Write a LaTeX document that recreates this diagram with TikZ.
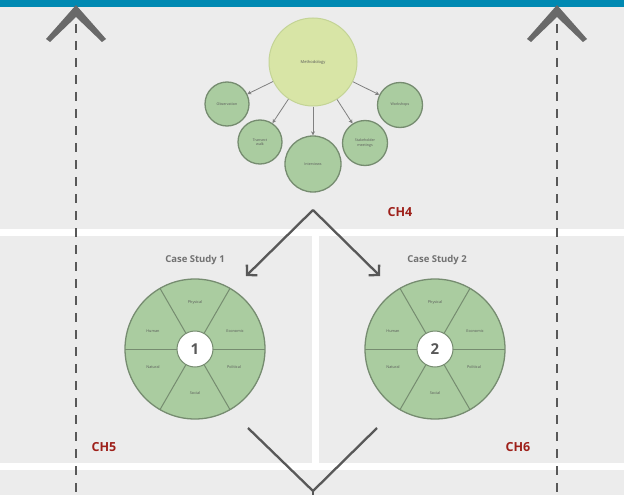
\documentclass[tikz,border=0pt]{standalone}
\usepackage{fontspec}
\setmainfont{Open Sans}
\usetikzlibrary{arrows.meta}
\definecolor{bggray}{RGB}{236,236,236}
\definecolor{topblue}{RGB}{0,137,178}
\definecolor{methfill}{RGB}{216,229,166}
\definecolor{methline}{RGB}{196,212,150}
\definecolor{subfill}{RGB}{170,204,160}
\definecolor{subline}{RGB}{118,140,112}
\definecolor{chred}{RGB}{158,32,26}
\definecolor{darkline}{RGB}{88,88,88}
\tikzset{
  subcircle/.style={circle, draw=subline, fill=subfill, line width=1.3pt, inner sep=0pt,
    align=center, text=darkline, font=\fontsize{3.6}{4.2}\selectfont},
  chapter/.style={text=chred, font=\bfseries\fontsize{12.5}{14}\selectfont},
  casetitle/.style={text=darkline!85, font=\bfseries\fontsize{9.5}{11}\selectfont},
  seglabel/.style={text=darkline, font=\fontsize{3.8}{4.5}\selectfont},
  bigarrow/.style={draw=darkline, line width=2.3pt},
  smallarrow/.style={draw=gray, line width=0.8pt, -{Stealth[length=4pt,width=4pt]}},
  chapline/.style={draw=darkline, line width=1.8pt, dash pattern=on 9pt off 8pt},
}
\begin{document}
\begin{tikzpicture}[x=1pt,y=-1pt]
\useasboundingbox (0,0) rectangle (624,495);
\fill[bggray] (0,0) rectangle (624,495);
\fill[white] (0,229) rectangle (624,236);
\fill[white] (0,463) rectangle (624,470);
\fill[white] (312,236) rectangle (319,463);
\fill[topblue] (0,0) rectangle (624,7);

% chapter lines going up
\draw[chapline] (76,24) -- (76,495);
\draw[chapline] (557,24) -- (557,495);
\fill[darkline!90] (76,5) -- (106,39) -- (102,42) -- (76,17) -- (50,42) -- (46,39) -- cycle;
\fill[darkline!90] (557,5) -- (587,39) -- (583,42) -- (557,17) -- (531,42) -- (527,39) -- cycle;

% methodology
\node[circle, draw=methline, fill=methfill, line width=1pt, minimum size=88pt, inner sep=0pt,
  text=darkline, font=\fontsize{4}{5}\selectfont](meth) at (313, 62){Methodology};
\node[subcircle, minimum size=44pt](m1) at (227, 104){Observation};
\node[subcircle, minimum size=44pt](m2) at (260, 142){Transect\\walk};
\node[subcircle, minimum size=56pt](m3) at (313, 164){Interviews};
\node[subcircle, minimum size=45pt](m4) at (365, 143){Stakeholder\\meetings};
\node[subcircle, minimum size=45pt](m5) at (400, 105){Workshops};
\draw[smallarrow] (meth) -- (m1);
\draw[smallarrow] (meth) -- (m2);
\draw[smallarrow] (meth) -- (m3);
\draw[smallarrow] (meth) -- (m4);
\draw[smallarrow] (meth) -- (m5);

\node[chapter](C4) at (400, 212){CH4};
\node[chapter](C5) at (104, 447){CH5};
\node[chapter](C6) at (518, 447){CH6};

% split into the two cases
\coordinate(top) at (313, 210);
\coordinate(tip1) at (246, 276);
\coordinate(tip2) at (380, 276);
\draw[bigarrow, -{Straight Barb[length=7pt,width=15pt,line width=2.3pt]}] (top) -- (tip1);
\draw[bigarrow, -{Straight Barb[length=7pt,width=15pt,line width=2.3pt]}] (top) -- (tip2);

\node[casetitle](T1) at (195, 260){Case Study 1};
\node[casetitle](T2) at (437, 260){Case Study 2};

% case study 1
\fill[subfill] (195, 349) circle (70);
\foreach \a in {0,60,...,300}
  \draw[subline, line width=1pt] (195, 349) ++(\a:18) -- ++(\a:52);
\draw[subline, line width=1.3pt] (195, 349) circle (70);
\node[circle, fill=white, draw=subline, line width=1pt, minimum size=36pt, inner sep=0pt,
  text=darkline, font=\bfseries\fontsize{15}{15}\selectfont](W1) at (195, 349){1};
\node[seglabel] at (195, 303){Physical};
\node[seglabel] at (235, 331){Economic};
\node[seglabel] at (234, 367){Political};
\node[seglabel] at (195, 393){Social};
\node[seglabel] at (153, 367){Natural};
\node[seglabel] at (153, 331){Human};

% case study 2
\fill[subfill] (435, 349) circle (70);
\foreach \a in {0,60,...,300}
  \draw[subline, line width=1pt] (435, 349) ++(\a:18) -- ++(\a:52);
\draw[subline, line width=1.3pt] (435, 349) circle (70);
\node[circle, fill=white, draw=subline, line width=1pt, minimum size=36pt, inner sep=0pt,
  text=darkline, font=\bfseries\fontsize{15}{15}\selectfont](W2) at (435, 349){2};
\node[seglabel] at (435, 303){Physical};
\node[seglabel] at (475, 331){Economic};
\node[seglabel] at (474, 367){Political};
\node[seglabel] at (435, 393){Social};
\node[seglabel] at (393, 367){Natural};
\node[seglabel] at (393, 331){Human};

% merge again
\coordinate(low1) at (248, 428);
\coordinate(low2) at (377, 428);
\coordinate(bot) at (313, 491);
\coordinate(out) at (313, 495);
\draw[bigarrow, line join=miter] (low1) -- (bot) -- (low2);
\draw[bigarrow] (bot) -- (out);

\end{tikzpicture}
\end{document}
